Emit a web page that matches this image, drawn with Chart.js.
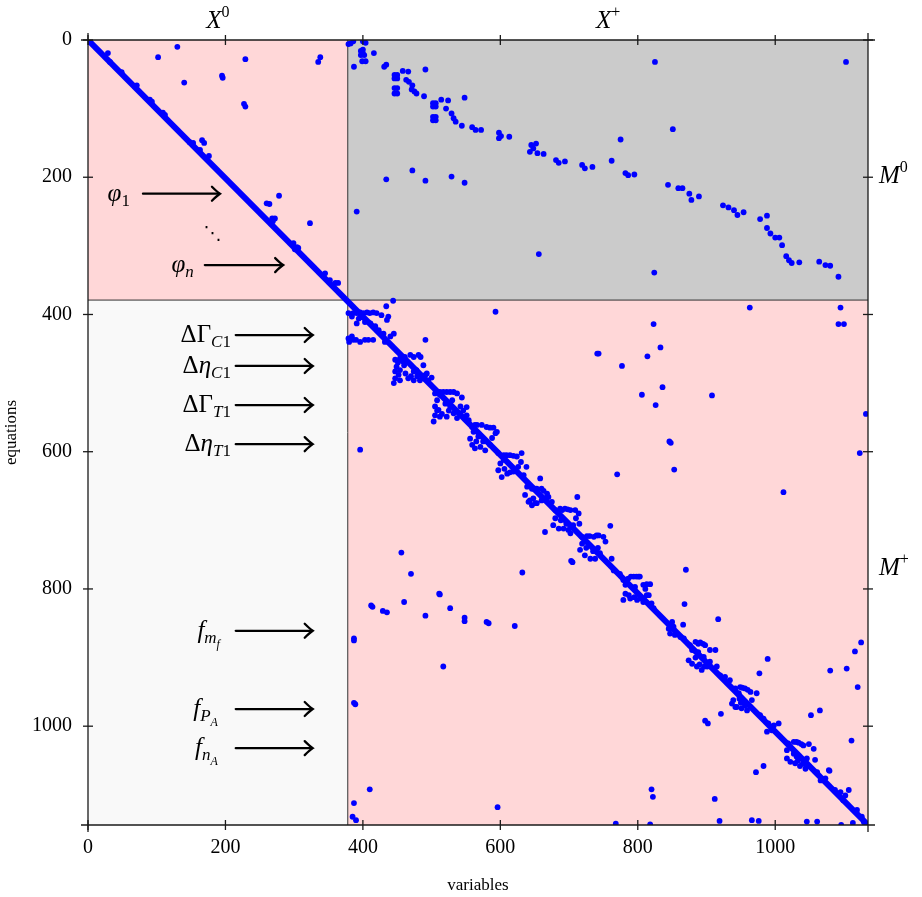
<!DOCTYPE html>
<html>
<head>
<meta charset="utf-8">
<title>Sparsity pattern</title>
<script src="https://cdn.jsdelivr.net/npm/chart.js@4.4.1/dist/chart.umd.min.js"></script>
<style>
  html, body { margin: 0; padding: 0; background: #fff; }
  canvas { display: block; }
</style>
</head>
<body>
<canvas id="chart" width="922" height="897"></canvas>
<script>
// matrix size and block split (variables x equations)
var N_VARS = 1135;
var N_EQS = 1144;
var SPLIT_VAR = 378;
var SPLIT_EQ = 379;

var X_TICKS = [0, 200, 400, 600, 800, 1000];
var Y_TICKS = [0, 200, 400, 600, 800, 1000];

// main diagonal (drawn as a thick band)
var DIAGONAL = [[0, 0], [1135, 1144]];

// nonzeros, [variable, equation]
var PHI_BLOCK = [[29, 19], [32, 32], [130, 10], [102, 25], [229, 28], [338, 25], [335, 32], [140, 62],
  [195, 52], [196, 55], [227, 93], [229, 97], [166, 146], [169, 150], [176, 169], [278, 227], [260, 238],
  [264, 239], [323, 267], [49, 47], [68, 67], [71, 66], [90, 87], [93, 90], [109, 106], [112, 109],
  [148, 149], [153, 150], [163, 160], [268, 260], [272, 260], [269, 264], [299, 296], [304, 302],
  [306, 303], [301, 305], [345, 340], [352, 350], [360, 354], [364, 354]];

var COUPLING_BLOCK = [[382, 5], [379, 6], [386, 2], [400, 2], [404, 4], [400, 14], [400, 19], [402, 22],
  [399, 31], [404, 31], [397, 16], [397, 22], [416, 19], [387, 39], [431, 39], [434, 36], [450, 51],
  [450, 56], [450, 70], [450, 78], [446, 51], [446, 56], [446, 70], [446, 78], [458, 45], [466, 46],
  [463, 58], [467, 61], [472, 66], [471, 72], [478, 78], [475, 75], [489, 82], [491, 43], [506, 92],
  [506, 97], [506, 112], [506, 117], [502, 92], [502, 97], [502, 112], [502, 117], [514, 87], [524, 88],
  [521, 100], [529, 107], [532, 114], [535, 119], [544, 125], [548, 84], [559, 127], [564, 131],
  [572, 131], [598, 135], [601, 140], [598, 143], [613, 141], [645, 153], [643, 163], [648, 158],
  [654, 165], [663, 166], [652, 151], [656, 312], [681, 175], [685, 179], [694, 177], [719, 182],
  [723, 187], [734, 185], [762, 176], [775, 145], [782, 194], [786, 197], [795, 196], [825, 32],
  [851, 130], [824, 339], [844, 211], [859, 216], [865, 216], [875, 224], [878, 233], [889, 228],
  [924, 241], [932, 244], [940, 248], [945, 255], [954, 251], [978, 261], [988, 256], [988, 274],
  [993, 282], [1000, 288], [1006, 288], [1010, 299], [1016, 315], [1020, 321], [1024, 325], [1035, 324],
  [1064, 323], [1073, 328], [1080, 329], [1092, 345], [1103, 32], [434, 203], [472, 190], [491, 205],
  [529, 199], [548, 208], [391, 250]];

var DIAG_BLOCKS = [
  [379, 398], [386, 398], [396, 397], [406, 397], [415, 397], [384, 403], [394, 406], [403, 411], [411, 413],
  [379, 435], [386, 437], [396, 440], [403, 437], [415, 437], [384, 432], [391, 413], [427, 401], [437, 403],
  [435, 408], [423, 423], [430, 428], [440, 432], [432, 440], [391, 398], [401, 398], [410, 398], [420, 398],
  [390, 437], [408, 437], [380, 440], [398, 404], [418, 417], [445, 428],
  [447, 466], [454, 464], [461, 462], [469, 459], [474, 462], [481, 459], [449, 476], [447, 483], [454, 481],
  [447, 493], [454, 496], [445, 500], [462, 486], [466, 493], [474, 483], [478, 481], [488, 474], [493, 486],
  [488, 493], [495, 496], [500, 492], [483, 496], [474, 496], [451, 470], [458, 468], [484, 462], [491, 488],
  [470, 490], [452, 488], [479, 490], [460, 474],
  [505, 515], [512, 513], [522, 513], [532, 513], [537, 515], [544, 521], [508, 525], [505, 534], [510, 539],
  [505, 547], [503, 556], [512, 549], [522, 549], [527, 534], [520, 530], [542, 534], [551, 535], [551, 547],
  [554, 554], [537, 551], [532, 544], [512, 517], [517, 513], [527, 513], [508, 540], [515, 545], [525, 540],
  [546, 540], [530, 525],
  [559, 564], [566, 561], [573, 561], [580, 564], [590, 565], [595, 571], [561, 571], [556, 581], [559, 590],
  [563, 595], [571, 593], [578, 598], [585, 590], [593, 573], [568, 578], [563, 561], [585, 565], [565, 585],
  [575, 585], [588, 580],
  [597, 602], [605, 605], [614, 605], [624, 607], [631, 602], [600, 617], [597, 627], [602, 637], [610, 632],
  [619, 629], [626, 622], [638, 622], [634, 634], [605, 612], [609, 605], [619, 606], [606, 625], [614, 630],
  [630, 615],
  [639, 651], [646, 654], [653, 654], [660, 654], [668, 661], [636, 663], [641, 673], [646, 678], [653, 675],
  [660, 671], [670, 666], [675, 673], [658, 639], [643, 671], [651, 675], [650, 654], [663, 657], [648, 668],
  [665, 668],
  [680, 685], [687, 683], [694, 683], [702, 685], [709, 685], [714, 690], [680, 697], [677, 707], [685, 712],
  [692, 712], [699, 714], [706, 707], [715, 705], [702, 719], [690, 685], [698, 684], [688, 700], [696, 705],
  [710, 697],
  [719, 724], [726, 723], [736, 724], [743, 722], [750, 724], [719, 734], [716, 743], [723, 751], [731, 756],
  [738, 756], [745, 748], [753, 731], [762, 756], [730, 723], [740, 722], [725, 740], [735, 745], [742, 740],
  [779, 787], [786, 785], [794, 782], [803, 782], [813, 793], [782, 807], [779, 816], [789, 814], [799, 816],
  [808, 819], [816, 809], [796, 797], [765, 773], [774, 778], [801, 782], [808, 794], [818, 793], [782, 794],
  [787, 809], [813, 809], [823, 828], [820, 821], [790, 782], [798, 782], [795, 812], [805, 814], [811, 800],
  [850, 848], [852, 855], [847, 865], [854, 867], [862, 870], [867, 872], [845, 858],
  [876, 882], [884, 877], [891, 878], [898, 882], [905, 889], [913, 889], [874, 904], [879, 909], [886, 913],
  [893, 918], [901, 913], [905, 906], [879, 889], [888, 892], [896, 899], [915, 913], [920, 926], [927, 928],
  [934, 933], [888, 880], [895, 880], [890, 910], [897, 913], [884, 900],
  [942, 945], [949, 943], [956, 945], [964, 950], [973, 952], [939, 962], [937, 967], [944, 972], [951, 974],
  [959, 977], [966, 962], [947, 952], [942, 972], [978, 984], [983, 989], [990, 996], [998, 999], [1005, 996],
  [988, 1008], [995, 1006], [952, 944], [960, 947], [950, 966], [956, 970], [948, 960],
  [1019, 1025], [1027, 1023], [1034, 1024], [1041, 1028], [1049, 1026], [1056, 1033], [1017, 1047],
  [1022, 1052], [1029, 1054], [1036, 1058], [1044, 1062], [1046, 1047], [1058, 1049], [1027, 1040],
  [1017, 1035], [1061, 1067], [1066, 1079], [1073, 1076], [1078, 1064], [1087, 1093], [1095, 1096],
  [1102, 1101], [1107, 1093], [1099, 1108], [1119, 1122], [1126, 1132], [1031, 1023], [1038, 1026],
  [1033, 1050], [1040, 1055], [1031, 1044]];

var SCATTERED = [[444, 380], [434, 388], [593, 396], [963, 390], [1095, 390], [823, 414], [1092, 414],
  [1100, 414], [833, 448], [491, 437], [743, 457], [741, 457], [814, 461], [777, 475], [836, 506], [806, 517],
  [826, 532], [908, 518], [1132, 545], [846, 585], [848, 587], [853, 626], [1123, 602], [770, 633], [1012, 659],
  [712, 666], [665, 717], [703, 759], [705, 761], [760, 708], [632, 776], [870, 772], [621, 854], [868, 822],
  [917, 844], [866, 852], [989, 902], [977, 923], [1080, 919], [1104, 916], [1116, 891], [1125, 878],
  [1120, 943], [898, 992], [902, 996], [921, 982], [1052, 984], [1065, 977], [1111, 1021], [983, 1058],
  [972, 1067], [1079, 1065], [820, 1092], [822, 1103], [912, 1106], [768, 1142], [818, 1143], [919, 1138],
  [966, 1137], [976, 1138], [1046, 1139], [1061, 1139], [1096, 1144], [1113, 1141], [1129, 1140],
  [396, 597], [456, 747], [470, 778], [511, 807], [512, 808], [412, 824], [414, 826], [460, 819], [429, 832],
  [435, 834], [491, 839], [527, 828], [548, 842], [548, 847], [580, 848], [583, 850], [387, 872], [387, 875],
  [517, 913], [387, 966], [389, 968], [410, 1092], [387, 1112], [596, 1118], [385, 1132], [390, 1137]];

// labels: [text, style]  r roman, i italic, s* subscript, ss* second level, p superscript
var COL_LABELS = [
  { runs: [['X', 'i'], ['0', 'p']], at: 189 },
  { runs: [['X', 'i'], ['+', 'p']], at: 757 }
];
var ROW_LABELS = [
  { runs: [['M', 'i'], ['0', 'p']], at: 190 },
  { runs: [['M', 'i'], ['+', 'p']], at: 761 }
];
var ARROWS = [
  { runs: [['φ', 'i'], ['1', 'sr']], eq: 224, textEnd: 61, from: 80, to: 192 },
  { runs: [['φ', 'i'], ['n', 'si']], eq: 328, textEnd: 154, from: 170, to: 284 },
  { runs: [['ΔΓ', 'r'], ['C', 'si'], ['1', 'sr']], eq: 430, textEnd: 208, from: 215, to: 327 },
  { runs: [['Δ', 'r'], ['η', 'i'], ['C', 'si'], ['1', 'sr']], eq: 475, textEnd: 208, from: 215, to: 327 },
  { runs: [['ΔΓ', 'r'], ['T', 'si'], ['1', 'sr']], eq: 532, textEnd: 208, from: 215, to: 327 },
  { runs: [['Δ', 'r'], ['η', 'i'], ['T', 'si'], ['1', 'sr']], eq: 589, textEnd: 208, from: 215, to: 327 },
  { runs: [['f', 'i'], ['m', 'si'], ['f', 'ssi']], eq: 861, textEnd: 192, from: 215, to: 327 },
  { runs: [['f', 'i'], ['P', 'si'], ['A', 'ssi']], eq: 975, textEnd: 189, from: 215, to: 327 },
  { runs: [['f', 'i'], ['n', 'si'], ['A', 'ssi']], eq: 1032, textEnd: 189, from: 215, to: 327 }
];

var SERIF = '"Liberation Serif", "DejaVu Serif", serif';

function runFont(k) {
  var it = k.indexOf('i') >= 0 ? 'italic ' : '';
  var size = 25;
  if (k.slice(0, 2) === 'ss') size = 12;
  else if (k[0] === 's') size = 17;
  else if (k[0] === 'p') size = 16;
  return it + size + 'px ' + SERIF;
}
function runShift(k) {
  if (k.slice(0, 2) === 'ss') return 10;
  if (k[0] === 's') return 5;
  if (k[0] === 'p') return -11;
  return 0;
}

function drawMath(ctx, runs, x, y, align) {
  var w = 0;
  runs.forEach(function(r) {
    ctx.font = runFont(r[1]);
    w += ctx.measureText(r[0]).width;
  });
  var cx = align === 'right' ? x - w : align === 'center' ? x - w / 2 : x;
  ctx.textAlign = 'left';
  ctx.textBaseline = 'alphabetic';
  runs.forEach(function(r) {
    ctx.font = runFont(r[1]);
    ctx.fillText(r[0], cx, y + runShift(r[1]));
    cx += ctx.measureText(r[0]).width;
  });
}

function line(ctx, x1, y1, x2, y2) {
  ctx.beginPath();
  ctx.moveTo(x1, y1);
  ctx.lineTo(x2, y2);
  ctx.stroke();
}

var blocksPlugin = {
  id: 'blocks',
  beforeDatasetsDraw: function(chart) {
    var ctx = chart.ctx, a = chart.chartArea;
    var sx = chart.scales.x.getPixelForValue(SPLIT_VAR);
    var sy = chart.scales.y.getPixelForValue(SPLIT_EQ);
    ctx.save();
    ctx.fillStyle = '#ffd7d8';
    ctx.fillRect(a.left, a.top, sx - a.left, sy - a.top);
    ctx.fillRect(sx, sy, a.right - sx, a.bottom - sy);
    ctx.fillStyle = '#cbcbcb';
    ctx.fillRect(sx, a.top, a.right - sx, sy - a.top);
    ctx.fillStyle = '#f9f9f9';
    ctx.fillRect(a.left, sy, sx - a.left, a.bottom - sy);
    ctx.strokeStyle = '#333';
    ctx.lineWidth = 1;
    line(ctx, sx, a.top, sx, a.bottom);
    line(ctx, a.left, sy, a.right, sy);
    ctx.restore();
  },
  afterDatasetsDraw: function(chart) {
    var ctx = chart.ctx, a = chart.chartArea, xs = chart.scales.x, ys = chart.scales.y;
    var ext = 7, tk = 5;
    ctx.save();
    ctx.strokeStyle = '#1a1a1a';
    ctx.lineWidth = 1.3;
    line(ctx, a.left - ext, a.bottom, a.right + ext, a.bottom);
    line(ctx, a.left - ext, a.top, a.right + ext, a.top);
    line(ctx, a.left, a.top - ext, a.left, a.bottom + ext);
    line(ctx, a.right, a.top - ext, a.right, a.bottom + ext);
    X_TICKS.forEach(function(v) {
      var px = xs.getPixelForValue(v);
      line(ctx, px, a.bottom - tk, px, a.bottom + tk);
      line(ctx, px, a.top - tk, px, a.top + tk);
    });
    Y_TICKS.forEach(function(v) {
      var py = ys.getPixelForValue(v);
      line(ctx, a.left - tk, py, a.left + tk, py);
      line(ctx, a.right - tk, py, a.right + tk, py);
    });
    ctx.restore();
  },
  afterDraw: function(chart) {
    var ctx = chart.ctx, a = chart.chartArea, xs = chart.scales.x, ys = chart.scales.y;
    ctx.save();
    ctx.fillStyle = '#000';
    ctx.strokeStyle = '#000';
    COL_LABELS.forEach(function(l) {
      drawMath(ctx, l.runs, xs.getPixelForValue(l.at), a.top - 12, 'center');
    });
    ROW_LABELS.forEach(function(l) {
      drawMath(ctx, l.runs, a.right + 11, ys.getPixelForValue(l.at) + 13, 'left');
    });
    ARROWS.forEach(function(l) {
      var py = ys.getPixelForValue(l.eq);
      var x1 = xs.getPixelForValue(l.from), x2 = xs.getPixelForValue(l.to);
      drawMath(ctx, l.runs, xs.getPixelForValue(l.textEnd), py + 7, 'right');
      ctx.lineWidth = 2.3;
      ctx.lineCap = 'round';
      line(ctx, x1, py, x2 - 1, py);
      ctx.beginPath();
      ctx.moveTo(x2 - 8, py - 7);
      ctx.quadraticCurveTo(x2 - 3, py - 2, x2, py);
      ctx.quadraticCurveTo(x2 - 3, py + 2, x2 - 8, py + 7);
      ctx.stroke();
    });
    // vertical ellipsis between phi_1 and phi_n
    ctx.font = '18px "DejaVu Sans", sans-serif';
    ctx.textAlign = 'center';
    ctx.textBaseline = 'middle';
    ctx.fillText('⋱', xs.getPixelForValue(181), ys.getPixelForValue(283));
    // axis titles
    ctx.font = '17px ' + SERIF;
    ctx.textAlign = 'center';
    ctx.textBaseline = 'alphabetic';
    ctx.fillText('variables', (a.left + a.right) / 2, 890);
    ctx.translate(16, (a.top + a.bottom) / 2);
    ctx.rotate(-Math.PI / 2);
    ctx.fillText('equations', 0, 0);
    ctx.restore();
  }
};

function toXY(p) { return { x: p[0], y: p[1] }; }
var tickFont = { family: SERIF, size: 20 };

var chart = new Chart(document.getElementById('chart'), {
  type: 'scatter',
  data: {
    datasets: [
      {
        label: 'diagonal',
        data: DIAGONAL.map(toXY),
        showLine: true,
        borderColor: '#0000ff',
        borderWidth: 6,
        pointRadius: 0
      },
      {
        label: 'nonzeros',
        data: PHI_BLOCK.concat(COUPLING_BLOCK, DIAG_BLOCKS, SCATTERED).map(toXY),
        backgroundColor: '#0000ff',
        borderWidth: 0,
        pointRadius: 2.9
      }
    ]
  },
  options: {
    responsive: false,
    animation: false,
    layout: { padding: { left: 0, right: 54, top: 40, bottom: 0 } },
    plugins: { legend: { display: false }, tooltip: { enabled: false } },
    scales: {
      x: {
        type: 'linear', position: 'bottom', min: 0, max: N_VARS,
        grid: { display: false, drawTicks: false },
        border: { display: false },
        afterBuildTicks: function(s) { s.ticks = X_TICKS.map(function(v) { return { value: v }; }); },
        afterFit: function(s) { s.height = 72; },
        ticks: { color: '#000', font: tickFont, padding: 11, callback: function(v) { return String(v); } }
      },
      y: {
        type: 'linear', position: 'left', reverse: true, min: 0, max: N_EQS,
        grid: { display: false, drawTicks: false },
        border: { display: false },
        afterBuildTicks: function(s) { s.ticks = Y_TICKS.map(function(v) { return { value: v }; }); },
        afterFit: function(s) { s.width = 88; },
        ticks: { color: '#000', font: tickFont, padding: 16, callback: function(v) { return String(v); } }
      }
    }
  },
  plugins: [blocksPlugin]
});
</script>
</body>
</html>
